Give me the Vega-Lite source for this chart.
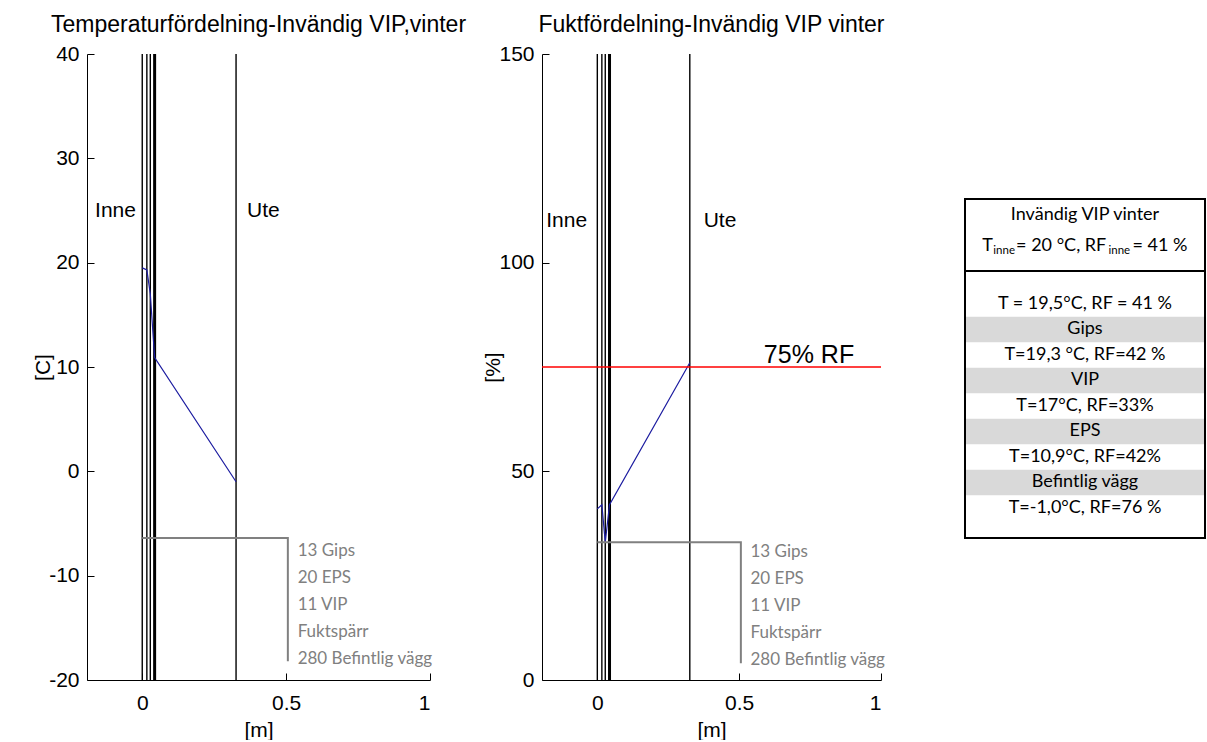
{
  "$schema": "https://vega.github.io/schema/vega-lite/v6.json",
  "background": "white",
  "padding": {"left": 32, "top": 14, "right": 0, "bottom": 0},
  "config": {
    "view": {"stroke": null},
    "axis": {
      "grid": false,
      "domainColor": "black",
      "domainWidth": 1,
      "tickColor": "black",
      "tickWidth": 1,
      "tickSize": -7,
      "labelPadding": 15,
      "labelColor": "black",
      "labelFont": "Liberation Sans",
      "labelFontSize": 21,
      "titleColor": "black",
      "titleFont": "Liberation Sans",
      "titleFontSize": 21,
      "titleFontWeight": "normal"
    },
    "axisX": {"labelPadding": 19, "titlePadding": 6},
    "axisY": {"titlePadding": -5},
    "title": {"font": "Liberation Sans", "fontSize": 23, "fontWeight": "normal", "color": "black", "anchor": "middle", "offset": 6},
    "text": {"font": "Liberation Sans", "color": "black"}
  },
  "datasets": {
    "interfaces": [
      {"x": 0, "kind": "layer"},
      {"x": 0.016, "kind": "layer"},
      {"x": 0.028, "kind": "layer"},
      {"x": 0.043, "kind": "vapour barrier"},
      {"x": 0.326, "kind": "layer"}
    ],
    "profile": [
      {"x": 0, "T": 19.5, "RF": 41},
      {"x": 0.016, "T": 19.3, "RF": 42},
      {"x": 0.028, "T": 17.0, "RF": 33},
      {"x": 0.043, "T": 10.9, "RF": 42},
      {"x": 0.326, "T": -1.0, "RF": 76}
    ],
    "wallLegend": [
      {"text": "13 Gips\n20 EPS\n11 VIP\nFuktspärr\n280 Befintlig vägg"}
    ],
    "tableRows": [
      {"row": 1, "kind": "interface", "label": "T = 19,5°C, RF = 41 %"},
      {"row": 2, "kind": "material", "label": "Gips"},
      {"row": 3, "kind": "interface", "label": "T=19,3 °C, RF=42 %"},
      {"row": 4, "kind": "material", "label": "VIP"},
      {"row": 5, "kind": "interface", "label": "T=17°C, RF=33%"},
      {"row": 6, "kind": "material", "label": "EPS"},
      {"row": 7, "kind": "interface", "label": "T=10,9°C, RF=42%"},
      {"row": 8, "kind": "material", "label": "Befintlig vägg"},
      {"row": 9, "kind": "interface", "label": "T=-1,0°C, RF=76 %"}
    ]
  },
  "bounds": "flush",
  "spacing": 112,
  "hconcat": [
    {
      "width": 343,
      "height": 626,
      "title": "Temperaturfördelning-Invändig VIP,vinter",
      "layer": [
        {
          "data": {"name": "interfaces"},
          "transform": [{"filter": "datum.kind === 'layer'"}],
          "mark": {"type": "rule", "color": "black", "strokeWidth": 1.4},
          "encoding": {
            "x": {"field": "x", "type": "quantitative", "scale": {"domain": [-0.192, 1], "nice": false, "zero": false},
                  "axis": {"values": [0, 0.5, 1], "format": "~g", "title": "[m]"}}
          }
        },
        {
          "data": {"name": "interfaces"},
          "transform": [{"filter": "datum.kind === 'vapour barrier'"}],
          "mark": {"type": "rule", "color": "black", "strokeWidth": 3},
          "encoding": {"x": {"field": "x", "type": "quantitative"}}
        },
        {
          "data": {"name": "profile"},
          "mark": {"type": "line", "color": "#1c1ca0", "strokeWidth": 1.2},
          "encoding": {
            "x": {"field": "x", "type": "quantitative"},
            "y": {"field": "T", "type": "quantitative", "scale": {"domain": [-20, 40], "nice": false, "zero": false},
                  "axis": {"values": [-20, -10, 0, 10, 20, 30, 40], "labelExpr": "'' + datum.value", "title": "[C]"}}
          }
        },
        {
          "data": {"values": [
            {"step": 1, "x": 0, "T": -6.4},
            {"step": 2, "x": 0.506, "T": -6.4},
            {"step": 3, "x": 0.506, "T": -18.2}
          ]},
          "mark": {"type": "line", "color": "#808080", "strokeWidth": 2},
          "encoding": {
            "x": {"field": "x", "type": "quantitative"},
            "y": {"field": "T", "type": "quantitative"},
            "order": {"field": "step"}
          }
        },
        {
          "data": {"name": "wallLegend"},
          "mark": {"type": "text", "align": "left", "baseline": "middle", "font": "Lato", "fontSize": 17, "color": "#808080", "lineHeight": 27, "lineBreak": "\n"},
          "encoding": {
            "x": {"datum": 0.54},
            "y": {"datum": -7.6},
            "text": {"field": "text"}
          }
        },
        {
          "data": {"values": [
            {"side": "Inne", "x": -0.164, "T": 25},
            {"side": "Ute", "x": 0.364, "T": 25}
          ]},
          "mark": {"type": "text", "align": "left", "baseline": "middle", "fontSize": 21},
          "encoding": {
            "x": {"field": "x", "type": "quantitative"},
            "y": {"field": "T", "type": "quantitative"},
            "text": {"field": "side"}
          }
        }
      ]
    },
    {
      "bounds": "flush",
      "spacing": 84,
      "hconcat": [
        {
          "width": 339,
          "height": 626,
          "title": "Fuktfördelning-Invändig VIP vinter",
          "layer": [
            {
              "data": {"name": "interfaces"},
              "transform": [{"filter": "datum.kind === 'layer'"}],
              "mark": {"type": "rule", "color": "black", "strokeWidth": 1.4},
              "encoding": {
                "x": {"field": "x", "type": "quantitative", "scale": {"domain": [-0.195, 1], "nice": false, "zero": false},
                      "axis": {"values": [0, 0.5, 1], "format": "~g", "title": "[m]"}}
              }
            },
            {
              "data": {"name": "interfaces"},
              "transform": [{"filter": "datum.kind === 'vapour barrier'"}],
              "mark": {"type": "rule", "color": "black", "strokeWidth": 3},
              "encoding": {"x": {"field": "x", "type": "quantitative"}}
            },
            {
              "data": {"name": "profile"},
              "mark": {"type": "line", "color": "#1c1ca0", "strokeWidth": 1.2},
              "encoding": {
                "x": {"field": "x", "type": "quantitative"},
                "y": {"field": "RF", "type": "quantitative", "scale": {"domain": [0, 150], "nice": false},
                      "axis": {"values": [0, 50, 100, 150], "labelExpr": "'' + datum.value", "title": "[%]"}}
              }
            },
            {
              "data": {"values": [{"RF": 75, "label": "75% RF"}]},
              "layer": [
                {
                  "mark": {"type": "rule", "color": "#ff0000", "strokeWidth": 1.5},
                  "encoding": {"y": {"field": "RF", "type": "quantitative"}}
                },
                {
                  "mark": {"type": "text", "align": "left", "baseline": "middle", "fontSize": 25, "dy": -12},
                  "encoding": {
                    "x": {"datum": 0.587},
                    "y": {"field": "RF", "type": "quantitative"},
                    "text": {"field": "label"}
                  }
                }
              ]
            },
            {
              "data": {"values": [
                {"step": 1, "x": 0, "RF": 33},
                {"step": 2, "x": 0.506, "RF": 33},
                {"step": 3, "x": 0.506, "RF": 4}
              ]},
              "mark": {"type": "line", "color": "#808080", "strokeWidth": 2},
              "encoding": {
                "x": {"field": "x", "type": "quantitative"},
                "y": {"field": "RF", "type": "quantitative"},
                "order": {"field": "step"}
              }
            },
            {
              "data": {"name": "wallLegend"},
              "mark": {"type": "text", "align": "left", "baseline": "middle", "font": "Lato", "fontSize": 17, "color": "#808080", "lineHeight": 27, "lineBreak": "\n"},
              "encoding": {
                "x": {"datum": 0.54},
                "y": {"datum": 30.6},
                "text": {"field": "text"}
              }
            },
            {
              "data": {"values": [
                {"side": "Inne", "x": -0.18, "RF": 110},
                {"side": "Ute", "x": 0.375, "RF": 110}
              ]},
              "mark": {"type": "text", "align": "left", "baseline": "middle", "fontSize": 21},
              "encoding": {
                "x": {"field": "x", "type": "quantitative"},
                "y": {"field": "RF", "type": "quantitative"},
                "text": {"field": "side"}
              }
            }
          ]
        },
        {
          "width": 240,
          "height": 626,
          "layer": [
            {
              "data": {"name": "tableRows"},
              "transform": [{"filter": "datum.kind === 'material'"}],
              "mark": {"type": "rule", "color": "#d9d9d9", "strokeWidth": 25.5, "strokeCap": "butt"},
              "encoding": {
                "y": {"field": "row", "type": "quantitative", "scale": {"domain": [-8.8, 15.75], "reverse": true, "nice": false, "zero": false}, "axis": null},
                "x": {"datum": 0, "type": "quantitative", "scale": {"domain": [0, 1], "nice": false}, "axis": null},
                "x2": {"datum": 1}
              }
            },
            {
              "data": {"name": "tableRows"},
              "mark": {"type": "text", "font": "Lato", "fontSize": 18, "align": "center", "baseline": "middle"},
              "encoding": {
                "y": {"field": "row", "type": "quantitative"},
                "x": {"datum": 0.5},
                "text": {"field": "label"}
              }
            },
            {
              "data": {"values": [{"case": "Invändig VIP vinter", "T": "T", "eqT": "= 20 °C, RF", "eqRF": "= 41 %", "sub": "inne"}]},
              "layer": [
                {
                  "mark": {"type": "text", "font": "Lato", "fontSize": 18, "align": "center", "baseline": "middle"},
                  "encoding": {"x": {"datum": 0.5}, "y": {"datum": -2.49}, "text": {"field": "case"}}
                },
                {
                  "mark": {"type": "text", "font": "Lato", "fontSize": 18, "align": "left", "baseline": "middle"},
                  "encoding": {"x": {"datum": 0.072}, "y": {"datum": -1.27}, "text": {"field": "T"}}
                },
                {
                  "mark": {"type": "text", "font": "Lato", "fontSize": 11.5, "align": "left", "baseline": "middle", "dy": 5},
                  "encoding": {"x": {"datum": 0.118}, "y": {"datum": -1.27}, "text": {"field": "sub"}}
                },
                {
                  "mark": {"type": "text", "font": "Lato", "fontSize": 18, "align": "left", "baseline": "middle"},
                  "encoding": {"x": {"datum": 0.213}, "y": {"datum": -1.27}, "text": {"field": "eqT"}}
                },
                {
                  "mark": {"type": "text", "font": "Lato", "fontSize": 11.5, "align": "left", "baseline": "middle", "dy": 5},
                  "encoding": {"x": {"datum": 0.598}, "y": {"datum": -1.27}, "text": {"field": "sub"}}
                },
                {
                  "mark": {"type": "text", "font": "Lato", "fontSize": 18, "align": "left", "baseline": "middle"},
                  "encoding": {"x": {"datum": 0.698}, "y": {"datum": -1.27}, "text": {"field": "eqRF"}}
                },
                {
                  "mark": {"type": "rect", "fillOpacity": 0, "stroke": "black", "strokeWidth": 2},
                  "encoding": {"x": {"datum": 0}, "x2": {"datum": 1}, "y": {"datum": -3.11}, "y2": {"datum": 10.18}}
                },
                {
                  "mark": {"type": "rule", "color": "black", "strokeWidth": 2},
                  "encoding": {"x": {"datum": 0}, "x2": {"datum": 1}, "y": {"datum": -0.29}}
                }
              ]
            }
          ]
        }
      ]
    }
  ]
}
